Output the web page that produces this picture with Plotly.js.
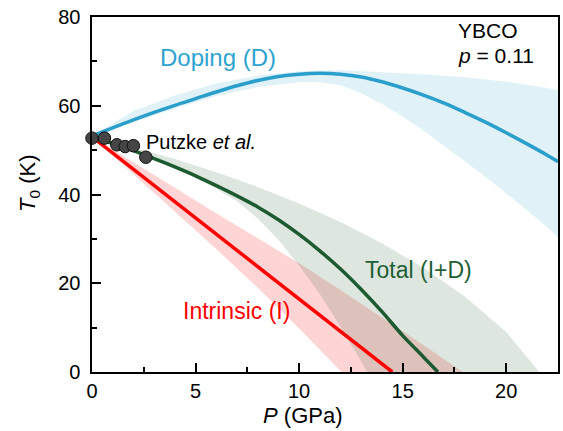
<!DOCTYPE html>
<html>
<head>
<meta charset="utf-8">
<script src="https://cdn.plot.ly/plotly-3.0.1.min.js"></script>
<style>html,body{margin:0;padding:0;background:#fff;}#chart{width:563px;height:431px;}</style>
</head>
<body>
<div id="chart"></div>
<script>
// Doping (D) curve and band
const pDoping = [0,1,2,3,4,5,6,7,8,9,10,11,12,13,14,15,16,17,18,19,20,21,22,22.5];
const tDoping = [53.2,55,56.8,58.5,60.1,61.6,63.1,64.5,65.7,66.6,67.1,67.3,67.1,66.5,65.4,64,62.4,60.6,58.5,56.3,53.9,51.4,48.8,47.4];
const pDopingUp = [0,2,4,6,8,10,12,14,16,18,20,22,22.5];
const tDopingUp = [53.2,58.8,62.3,65,66.8,67.8,68,67.6,67.1,66.4,65.4,64,63.5];
const pDopingLo = [0,2,4,6,8,10,11,12,13,14,15,16,17,18,19,20,21,22,22.5];
const tDopingLo = [53.2,56.3,59.4,62.2,64.2,65.3,65.3,64.6,62.8,60.4,57.6,54.4,51,47.5,44,40.3,36.5,32.5,30.3];

// Intrinsic (I) curve and band
const pIntr = [0,8.2,14.5];
const tIntr = [53,23,0];
const pIntrUp = [0,2,4,6,8,10,12,14,16,17.9];
const tIntrUp = [53,47.2,41.5,35.8,30.2,24.5,18.5,12.3,6.1,0];
const pIntrLo = [0,2,4,6,8,10,12.05];
const tIntrLo = [53,44.6,36.2,27.7,19,9.8,0];

// Total (I+D) curve and band
const pTotal = [0,1,2,3,4,5,6,7,8,9,10,11,12,13,14,15,16,16.7];
const tTotal = [52.8,51.5,49.9,48.1,46.2,44.2,42,39.7,37.2,34.3,31,27.3,23.2,18.6,13.6,8.2,3.4,0];
const pTotalUp = [0,2,4,6,8,10,12,14,16,18,20,21.6];
const tTotalUp = [52.8,50.6,48,45,41.7,38,33.8,29,23.5,17,9,0];
const pTotalLo = [0,2,4,5,6,7,8,9,10,11,12,13.3];
const tTotalLo = [52.8,49.7,45.8,43.7,41.3,38.5,34.6,29.8,24,17.6,10.2,0];

// Putzke et al. data
const pPutzke = [0,0.6,1.2,1.6,2.0,2.6];
const tPutzke = [52.7,52.7,51.2,50.8,51.0,48.4];

const xTicks = [0,5,10,15,20];
const yTicks = [0,20,40,60,80];

const FONT = 'Liberation Sans, Arial, sans-serif';
const BLUE = '#2b9fcb', RED = '#ff0000', GREEN = '#1d5a30';

function band(pu, tu, pl, tl, color) {
  return {
    x: pu.concat(pl.slice().reverse()),
    y: tu.concat(tl.slice().reverse()),
    type: 'scatter', mode: 'lines', fill: 'toself',
    fillcolor: color, line: {width: 0}, hoverinfo: 'skip', showlegend: false
  };
}

const traces = [
  band(pDopingUp, tDopingUp, pDopingLo, tDopingLo, 'rgba(44,160,200,0.15)'),
  band(pIntrUp, tIntrUp, pIntrLo, tIntrLo, 'rgba(255,0,0,0.17)'),
  band(pTotalUp, tTotalUp, pTotalLo, tTotalLo, 'rgba(30,92,50,0.15)'),
  {x: pDoping, y: tDoping, type: 'scatter', mode: 'lines', line: {color: BLUE, width: 3.5, shape: 'spline'}, showlegend: false},
  {x: pIntr, y: tIntr, type: 'scatter', mode: 'lines', line: {color: RED, width: 3.5}, showlegend: false},
  {x: pTotal, y: tTotal, type: 'scatter', mode: 'lines', line: {color: GREEN, width: 3.5, shape: 'spline', smoothing: 0.6}, showlegend: false},
  {x: pPutzke, y: tPutzke, type: 'scatter', mode: 'markers', cliponaxis: false,
   marker: {size: 12.5, color: '#454545', line: {color: '#111', width: 1}}, showlegend: false}
];

function px2x(px) { return (px - 92) / 466; }
function py2y(py) { return (372 - py) / 355; }

const annotations = [
  {text: 'Doping (D)', x: px2x(218), y: py2y(58), font: {size: 24, color: '#2ea3cf', family: FONT}},
  {text: 'Putzke <i>et al.</i>', x: px2x(201), y: py2y(142), font: {size: 20, color: '#000', family: FONT}},
  {text: 'Total (I+D)', x: px2x(418), y: py2y(270), font: {size: 23, color: '#1f5f35', family: FONT}},
  {text: 'Intrinsic (I)', x: px2x(236), y: py2y(311), font: {size: 23, color: '#ff0000', family: FONT}},
  {text: 'YBCO', x: px2x(456), y: py2y(31), xanchor: 'left', font: {size: 21, color: '#000', family: FONT}},
  {text: '<i>p</i> = 0.11', x: px2x(456), y: py2y(56), xanchor: 'left', font: {size: 21, color: '#000', family: FONT}},
  {text: '<i>P</i> (GPa)', x: px2x(302), y: py2y(415), font: {size: 22, color: '#000', family: FONT}},
  {text: '<i>T</i><sub>0</sub> (K)', x: px2x(29), y: py2y(183), textangle: -90, font: {size: 22, color: '#000', family: FONT}}
].map(a => Object.assign({xref: 'paper', yref: 'paper', showarrow: false, xanchor: 'center', yanchor: 'middle'}, a));

const axisCommon = {
  showgrid: false, zeroline: false, showline: true, linecolor: '#000', linewidth: 2,
  mirror: true, ticks: 'inside', ticklen: 9, tickwidth: 2, tickcolor: '#000',
  tickfont: {size: 20, color: '#000', family: FONT}
};

const layout = {
  width: 563, height: 431,
  margin: {l: 92, r: 5, t: 17, b: 59},
  paper_bgcolor: '#fff', plot_bgcolor: '#fff',
  font: {family: FONT},
  xaxis: Object.assign({}, axisCommon, {
    range: [0, 22.5], tickmode: 'array', tickvals: xTicks, ticktext: xTicks.map(String),
    minor: {dtick: 2.5, tick0: 0, ticks: 'inside', ticklen: 5, tickwidth: 2, tickcolor: '#000', showgrid: false}
  }),
  yaxis: Object.assign({}, axisCommon, {
    range: [0, 80], tickmode: 'array', tickvals: yTicks, ticktext: yTicks.map(v => String(v) + '\u00a0'),
    minor: {dtick: 10, tick0: 0, ticks: 'inside', ticklen: 5, tickwidth: 2, tickcolor: '#000', showgrid: false}
  }),
  annotations: annotations,
  showlegend: false
};

Plotly.newPlot('chart', traces, layout, {displayModeBar: false, staticPlot: true});
</script>
</body>
</html>
